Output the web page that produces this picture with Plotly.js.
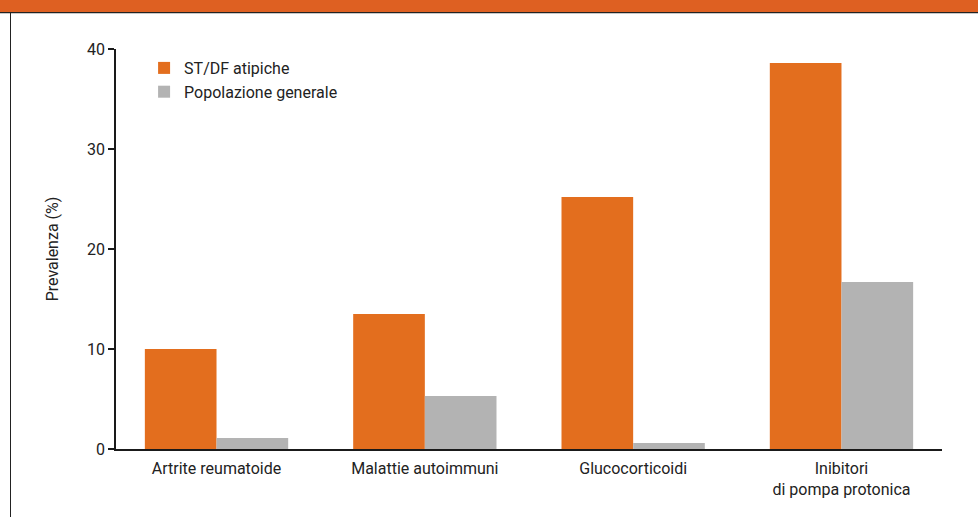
<!DOCTYPE html>
<html>
<head>
<meta charset="utf-8">
<script src="https://cdn.plot.ly/plotly-3.0.1.min.js"></script>
<style>
  html, body { margin: 0; padding: 0; background: #fff; }
  #wrap { position: relative; width: 978px; height: 517px; overflow: hidden; }
  #chart { position: absolute; left: 0; top: 0; width: 978px; height: 517px; }
  .band { position: absolute; left: 0; top: 0; width: 978px; height: 11.5px; background: #de6022; }
  .band-rule { position: absolute; left: 0; top: 11.5px; width: 978px; height: 1.5px; background: #222; }
  .band-shadow { position: absolute; left: 0; top: 13px; width: 978px; height: 1px; background: #c8c8c8; }
  .frame-left { position: absolute; left: 9.5px; top: 12px; width: 1.5px; height: 505px; background: #222; }
</style>
</head>
<body>
<div id="wrap">
  <div id="chart"></div>
  <div class="band"></div>
  <div class="band-rule"></div>
  <div class="band-shadow"></div>
  <div class="frame-left"></div>
</div>
<script>
// Prevalence by condition / drug exposure
const categories = [
  "Artrite reumatoide",
  "Malattie autoimmuni",
  "Glucocorticoidi",
  "Inibitori<br>di pompa protonica"
];
const seriesNames = ["ST/DF atipiche", "Popolazione generale"];
const atypicalValues = [10.0, 13.5, 25.2, 38.6];
const generalValues = [1.1, 5.3, 0.6, 16.7];
const yTickValues = [0, 10, 20, 30, 40];
const yTickLabels = ["0", "10", "20", "30", "40"];

const FONT = 'Roboto, "Liberation Sans", sans-serif';
const TEXT = '#222222';

const traces = [
  {
    type: 'bar',
    name: seriesNames[0],
    x: categories,
    y: atypicalValues,
    marker: { color: '#e36e1e', line: { width: 0 } },
    hoverinfo: 'x+y'
  },
  {
    type: 'bar',
    name: seriesNames[1],
    x: categories,
    y: generalValues,
    marker: { color: '#b3b3b3', line: { width: 0 } },
    hoverinfo: 'x+y'
  }
];

const layout = {
  width: 978,
  height: 517,
  margin: { l: 116, r: 36, t: 49, b: 68, pad: 0 },
  paper_bgcolor: '#ffffff',
  plot_bgcolor: '#ffffff',
  font: { family: FONT, size: 16, color: TEXT },
  barmode: 'group',
  bargap: 0.312,
  bargroupgap: 0,
  showlegend: true,
  legend: {
    x: 0.034, y: 0.995, xanchor: 'left', yanchor: 'top',
    bgcolor: 'rgba(0,0,0,0)',
    font: { family: FONT, size: 16, color: TEXT },
    tracegroupgap: 0,
    itemclick: false, itemdoubleclick: false
  },
  xaxis: {
    type: 'category',
    range: [-0.4825, 3.4825],
    showline: true, linecolor: '#1a1a1a', linewidth: 2,
    ticks: '', showgrid: false, zeroline: false,
    tickfont: { family: FONT, size: 16, color: TEXT },
    ticklabelstandoff: 4,
    fixedrange: true
  },
  yaxis: {
    range: [0, 40],
    tickvals: yTickValues,
    ticktext: yTickLabels,
    ticks: 'outside', ticklen: 6, tickwidth: 1.5, tickcolor: '#1a1a1a',
    showline: true, linecolor: '#1a1a1a', linewidth: 1.5,
    showgrid: false, zeroline: false,
    tickfont: { family: FONT, size: 16, color: TEXT },
    title: { text: 'Prevalenza (%)', font: { family: FONT, size: 16, color: TEXT }, standoff: 24 },
    fixedrange: true
  }
};

Plotly.newPlot('chart', traces, layout, { displayModeBar: false });
</script>
</body>
</html>
